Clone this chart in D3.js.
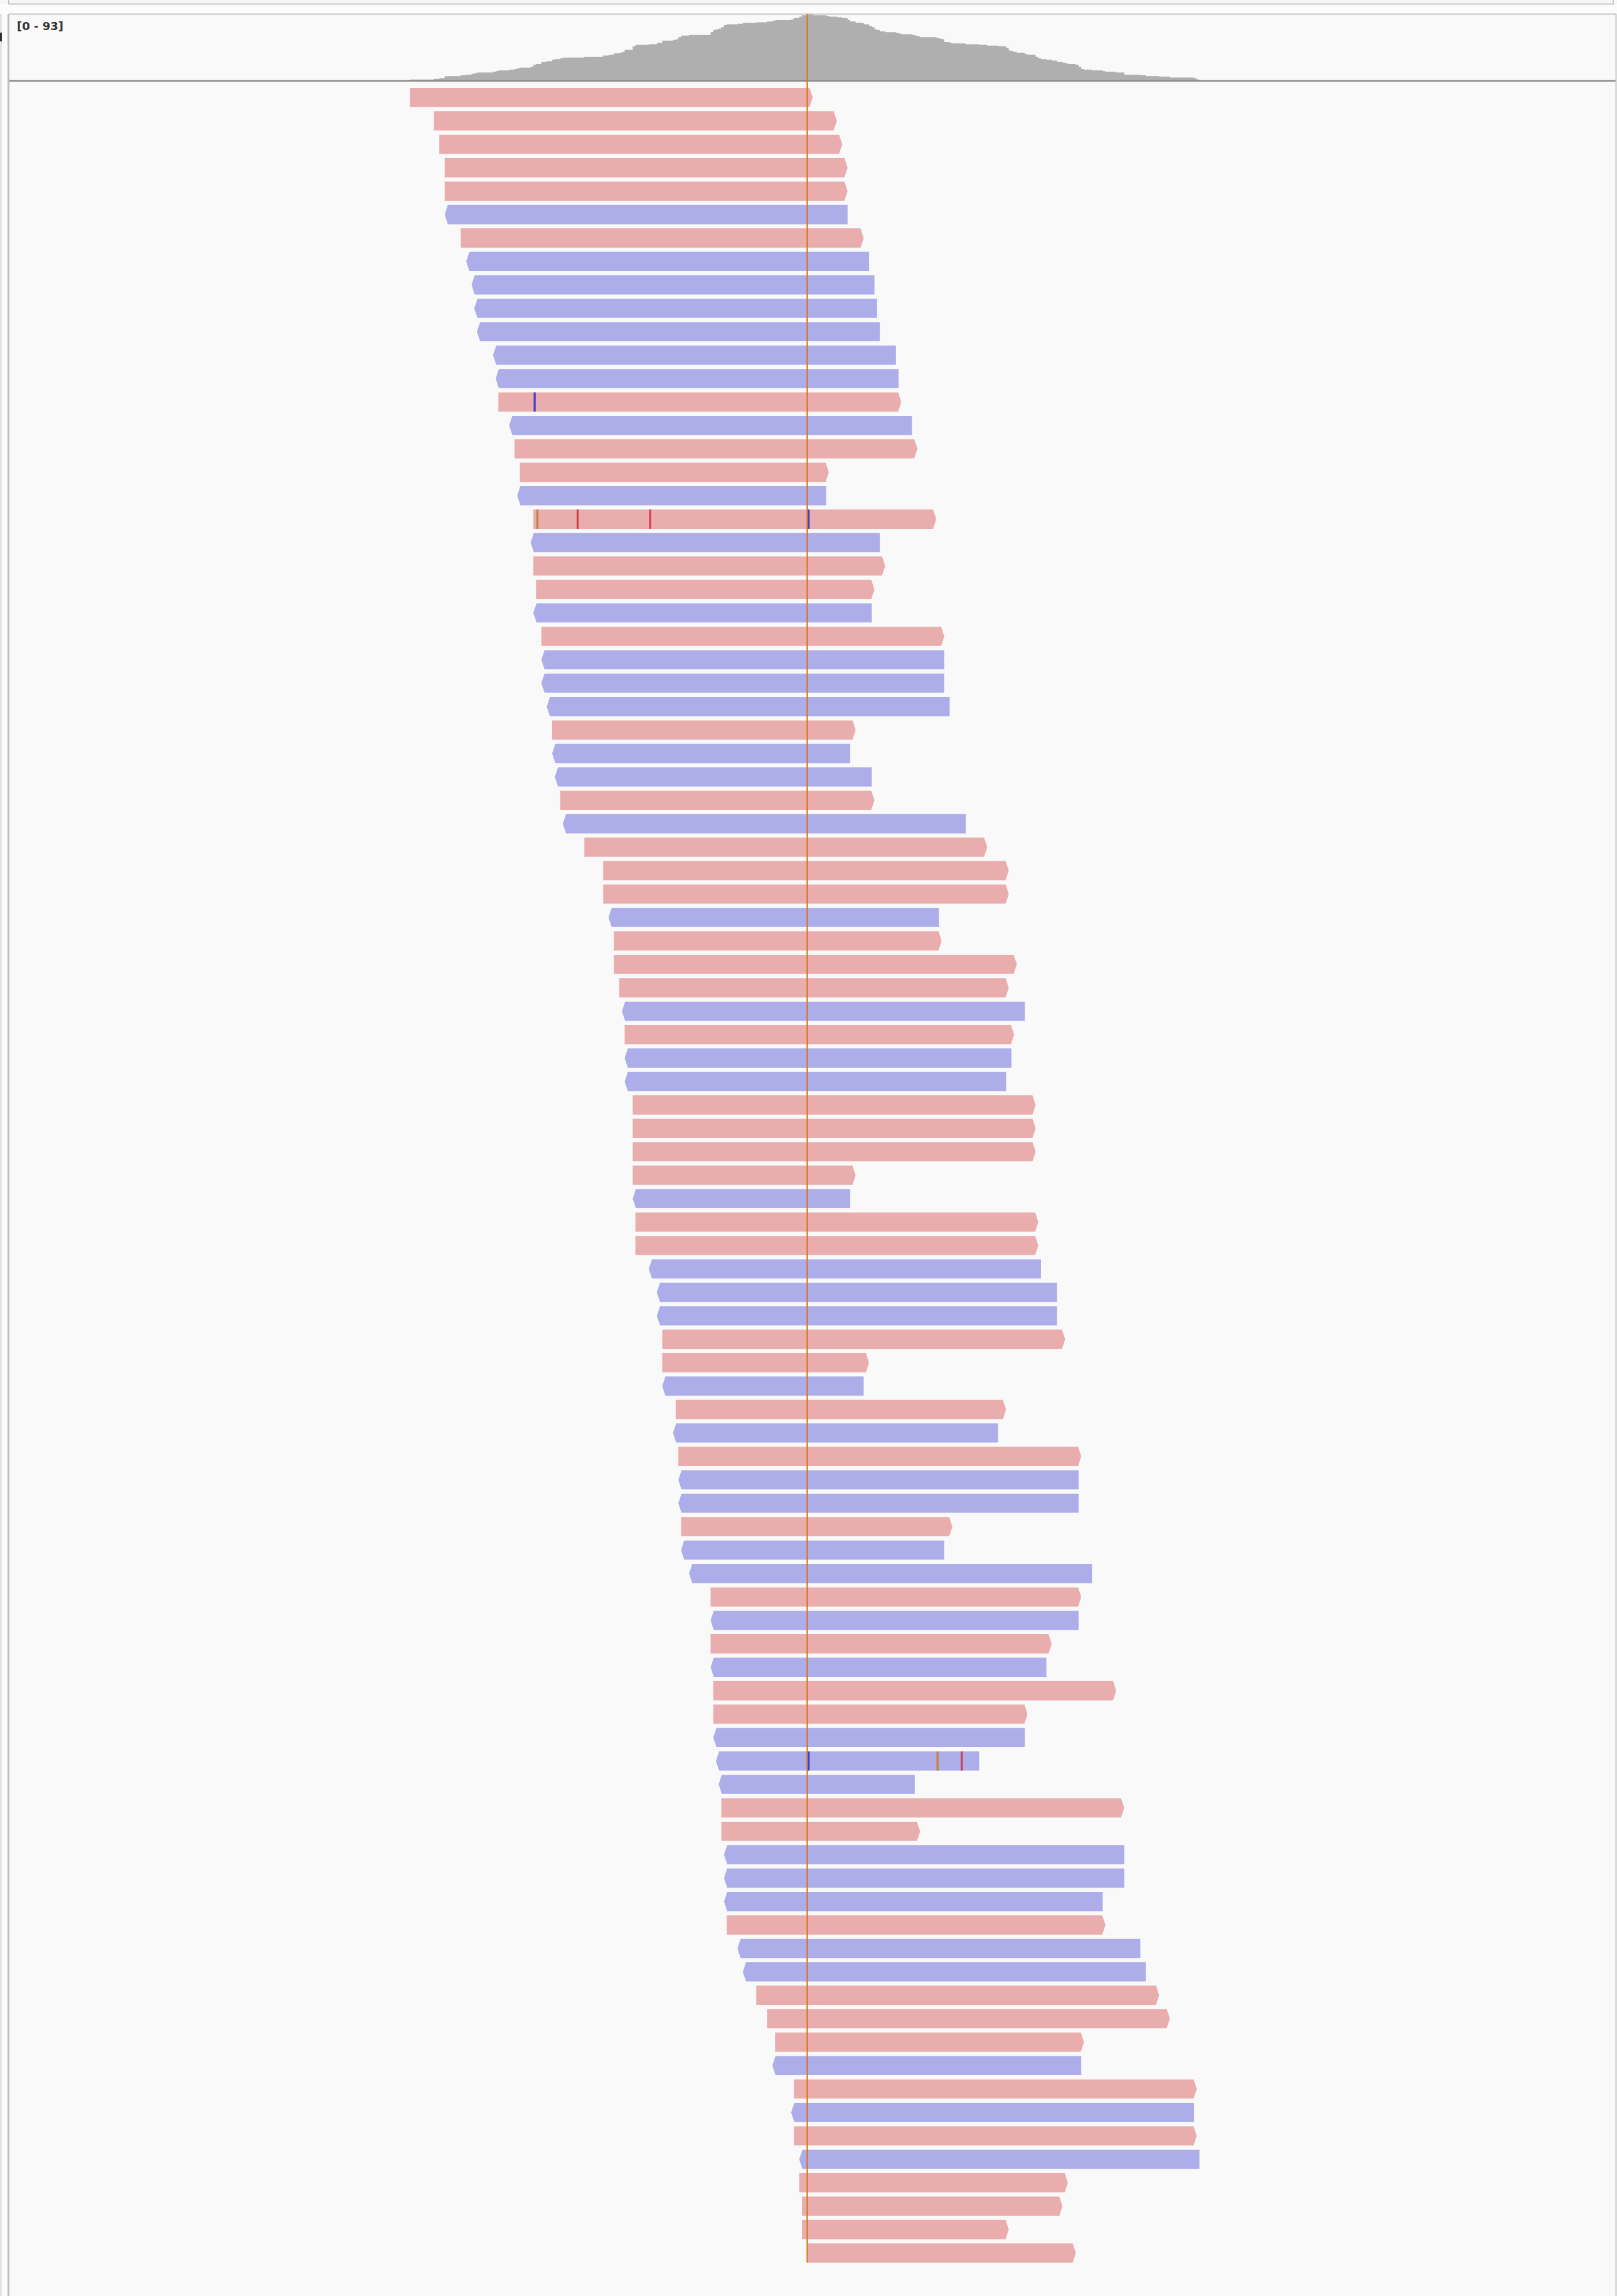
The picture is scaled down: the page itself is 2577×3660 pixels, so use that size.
<!DOCTYPE html>
<html><head><meta charset="utf-8">
<script src="https://cdn.jsdelivr.net/npm/d3@7/dist/d3.min.js"></script>
<style>html,body{margin:0;padding:0;background:#fcfcfc;}svg{display:block}</style>
</head><body>
<svg id="c" width="2577" height="3660"></svg>
<script>
// ---- data: reads (base offsets relative to the centre base), one read per row ----
const readStart = [-148,-139,-137,-135,-135,-135,-129,-127,-125,-124,-123,-117,-116,-115,-111,-109,-107,-108,-102,-103,
  -102,-101,-102,-99,-99,-99,-97,-95,-95,-94,-92,-91,-83,-76,-76,-74,-72,-72,-70,-69,
  -68,-68,-68,-65,-65,-65,-65,-65,-64,-64,-59,-56,-56,-54,-54,-54,-49,-50,-48,-48,
  -48,-47,-47,-44,-36,-36,-36,-36,-35,-35,-35,-34,-33,-32,-32,-31,-31,-31,-30,-26,
  -24,-19,-15,-12,-13,-5,-6,-5,-3,-3,-2,-2,0];
const readEnd = [2,11,13,15,15,15,21,23,25,26,27,33,34,35,39,41,8,7,48,27,
  29,25,24,51,51,51,53,18,16,24,25,59,67,75,75,49,50,78,75,81,
  77,76,74,85,85,85,18,16,86,86,87,93,93,96,23,21,74,71,102,101,
  101,54,51,106,102,101,91,89,115,82,81,64,40,118,42,118,118,110,111,124,
  126,131,135,103,102,145,144,145,146,97,95,75,100];
const readStrand = ["+","+","+","+","+","-","+","-","-","-","-","-","-","+","-","+","+","-","+","-",
  "+","+","-","+","-","-","-","+","-","-","+","-","+","+","+","-","+","+","+","-",
  "+","-","-","+","+","+","+","-","+","+","-","-","-","+","+","-","+","-","+","-",
  "-","+","-","-","+","-","+","-","+","+","-","-","-","+","+","-","-","-","+","-",
  "-","+","+","+","-","+","-","+","-","+","+","+","+"];
// mismatches: row (1-based), base offset, base
const mmRow  = [14, 19, 19, 19, 19, 72, 72, 72];
const mmPos  = [-102, -101, -86, -59, 0, 0, 48, 57];
const mmBase = ["C", "G", "T", "T", "C", "C", "G", "T"];
const baseColors = {A: "#1a9a1a", C: "#2a2ad6", G: "#c8781e", T: "#d22a3a"};

const W = 2577, H = 3660;
const svg = d3.select("#c");

// ---- layout frame ----
svg.append("rect").attr("width", W).attr("height", H).attr("fill", "#fcfcfc");
svg.append("rect").attr("x", 0).attr("y", 0).attr("width", W).attr("height", 6).attr("fill", "#f6f6f6");
svg.append("line").attr("x1", 14).attr("x2", 2571).attr("y1", 6.5).attr("y2", 6.5).attr("stroke", "#c6c6c6").attr("stroke-width", 2);
svg.append("line").attr("x1", 2571).attr("x2", 2571).attr("y1", 0).attr("y2", 7).attr("stroke", "#c6c6c6").attr("stroke-width", 2);
svg.append("line").attr("x1", 14).attr("x2", 14).attr("y1", 0).attr("y2", 7).attr("stroke", "#c6c6c6").attr("stroke-width", 2);

// coverage panel
svg.append("rect").attr("x", 14).attr("y", 22).attr("width", 2561).attr("height", 107).attr("fill", "#f9f9f9");
svg.append("line").attr("x1", 14).attr("x2", 2576).attr("y1", 22.5).attr("y2", 22.5).attr("stroke", "#c4c4c4").attr("stroke-width", 2);
// alignment panel
svg.append("rect").attr("x", 14).attr("y", 130).attr("width", 2561).attr("height", H - 130).attr("fill", "#f9f9f9");

const x = d3.scaleLinear().domain([-297.3, 301.0]).range([14, 2575]);

// ---- coverage computed from reads ----
const lo = d3.min(readStart), hi = d3.max(readEnd);
const cov = d3.range(lo, hi).map(p => ({p, n: readStart.filter((s, i) => s <= p && p < readEnd[i]).length}));
cov.push({p: hi, n: 0});
const maxCov = d3.max(cov, d => d.n);
const yc = d3.scaleLinear().domain([0, maxCov]).range([128, 23]);
const area = d3.area().x(d => x(d.p)).y0(yc(0)).y1(d => yc(d.n)).curve(d3.curveStepAfter);
svg.append("path").datum(cov).attr("d", area).attr("fill", "#afafaf");

svg.append("text").attr("x", 27).attr("y", 48).text(`[0 - ${maxCov}]`)
  .attr("font-family", "DejaVu Sans, sans-serif").attr("font-weight", "bold").attr("font-size", 18).attr("fill", "#333");

svg.append("line").attr("x1", 14).attr("x2", 2576).attr("y1", 129).attr("y2", 129).attr("stroke", "#8a8a8a").attr("stroke-width", 2.5);

// ---- reads ----
const rows = d3.range(readStart.length);
const yr = d3.scaleBand().domain(rows).range([140, 3606.8]).paddingInner(0.18);
const bh = yr.bandwidth();
const tip = 5;
function readPath(i) {
  const x0 = x(readStart[i]), x1 = x(readEnd[i]), t = yr(i), b = t + bh, m = t + bh / 2;
  if (readStrand[i] === "+") {
    return `M${x0},${t}L${x1 - tip},${t}L${x1},${m}L${x1 - tip},${b}L${x0},${b}Z`;
  }
  return `M${x0 + tip},${t}L${x1},${t}L${x1},${b}L${x0 + tip},${b}L${x0},${m}Z`;
}
svg.append("g").selectAll("path").data(rows).join("path")
  .attr("d", readPath)
  .attr("fill", i => readStrand[i] === "+" ? "#e9adad" : "#adadea");

// mismatches
svg.append("g").selectAll("rect").data(d3.range(mmRow.length)).join("rect")
  .attr("x", j => x(mmPos[j]) + 0.5)
  .attr("width", j => Math.max(3, x(mmPos[j] + 1) - x(mmPos[j]) - 1))
  .attr("y", j => yr(mmRow[j] - 1))
  .attr("height", bh)
  .attr("fill", j => baseColors[mmBase[j]])
  .attr("opacity", 0.85);

// centre line
svg.append("line").attr("x1", x(0)).attr("x2", x(0)).attr("y1", 22).attr("y2", yr(rows.length - 1) + bh)
  .attr("stroke", "#d4781c").attr("stroke-width", 2.5).attr("opacity", 0.9);

// left and right edges
svg.append("line").attr("x1", 13.5).attr("x2", 13.5).attr("y1", 22).attr("y2", H).attr("stroke", "#bdbdbd").attr("stroke-width", 3);
svg.append("line").attr("x1", 1.5).attr("x2", 1.5).attr("y1", 22).attr("y2", H).attr("stroke", "#d6d6d6").attr("stroke-width", 2);
svg.append("line").attr("x1", 1.5).attr("x2", 1.5).attr("y1", 52).attr("y2", 66).attr("stroke", "#333").attr("stroke-width", 3);
svg.append("line").attr("x1", 2575.5).attr("x2", 2575.5).attr("y1", 22).attr("y2", H).attr("stroke", "#c8c8c8").attr("stroke-width", 2);
</script>
</body></html>
